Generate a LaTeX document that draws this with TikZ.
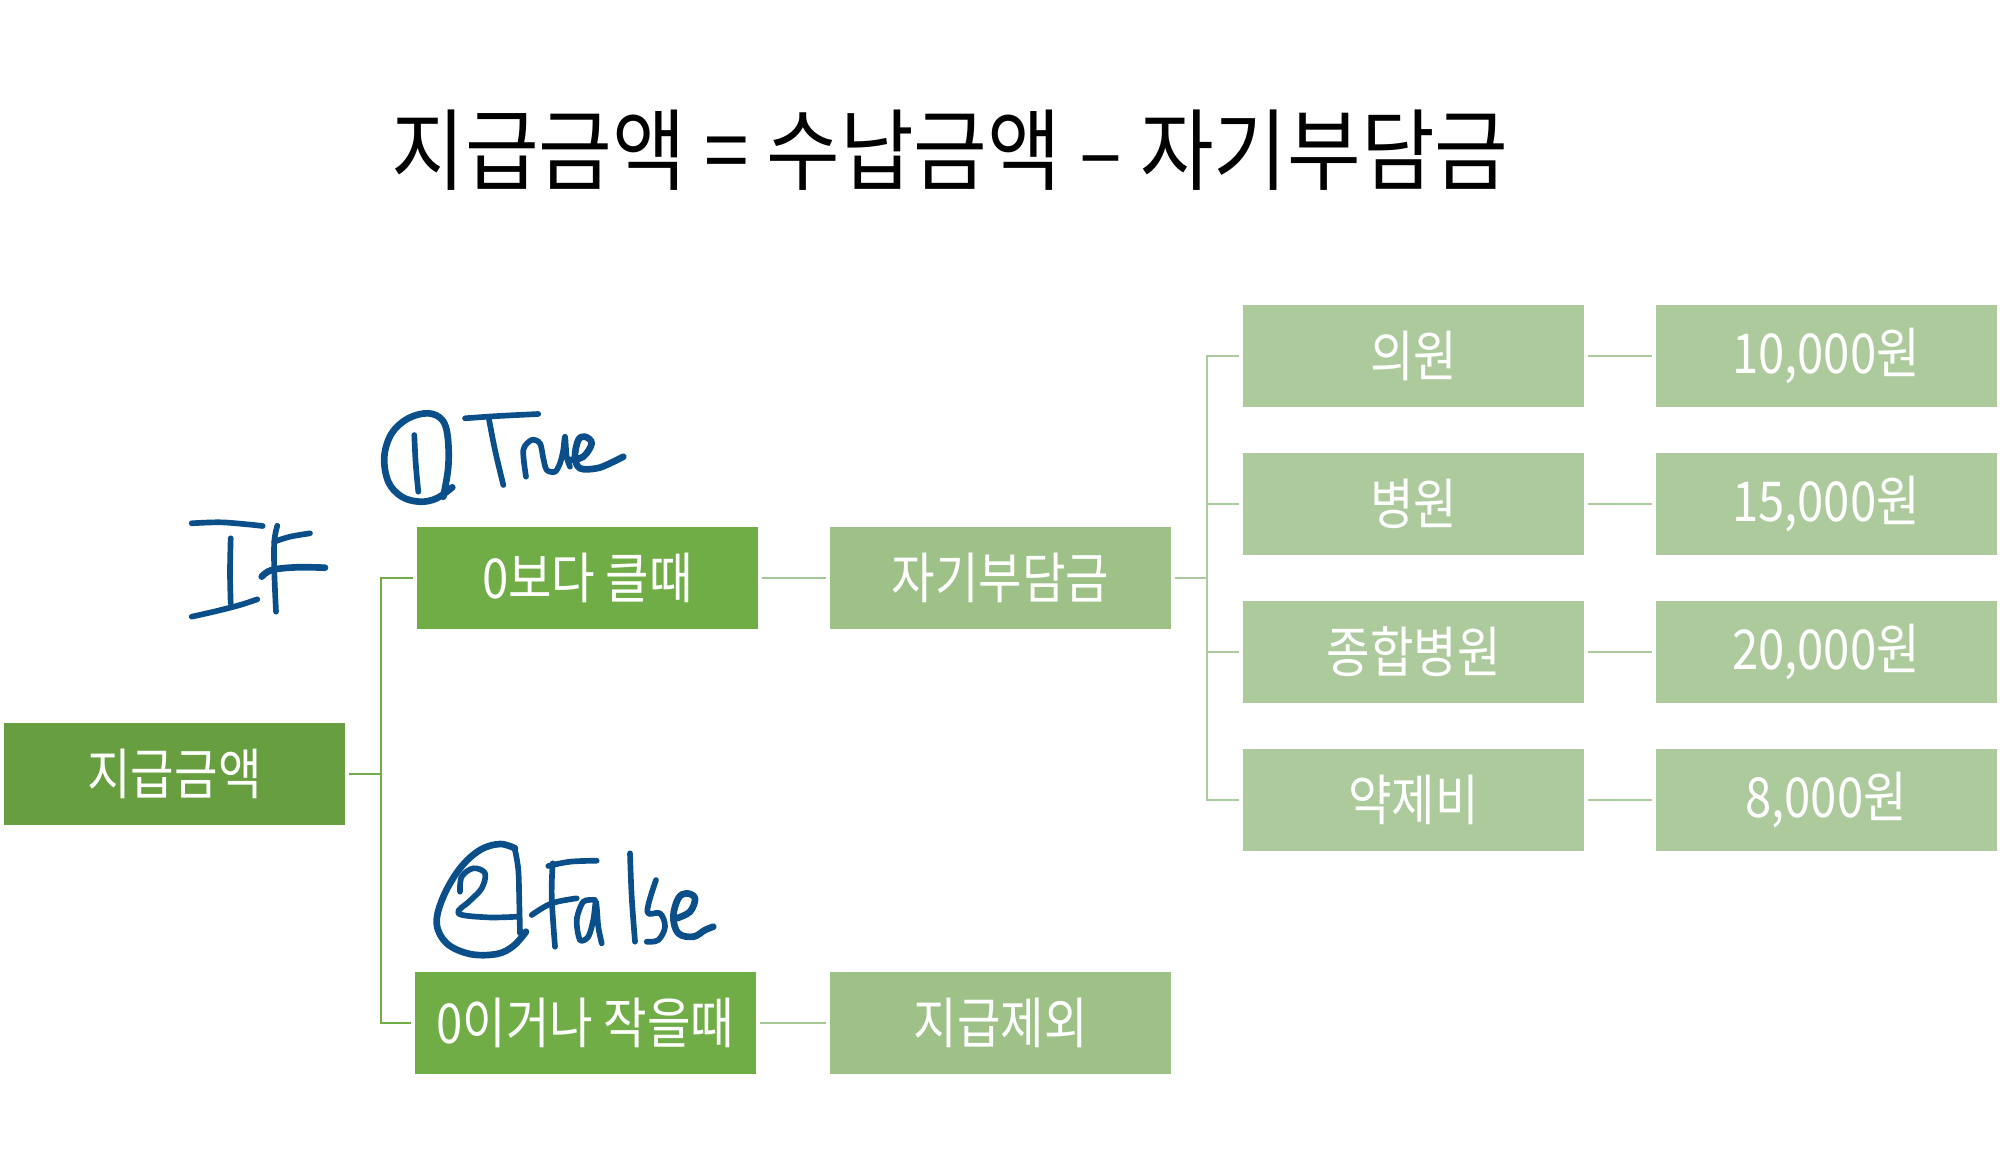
\documentclass[tikz,border=0pt]{standalone}
\usepackage{fontspec}
\newfontfamily\kr[FakeStretch=0.86]{Noto Sans CJK KR}
\newfontfamily\krtitle[FakeStretch=0.9]{Noto Sans CJK KR}
\definecolor{cA}{RGB}{102,158,64}
\definecolor{cB}{RGB}{112,173,71}
\definecolor{cC}{RGB}{158,193,136}
\definecolor{cD}{RGB}{172,202,156}
\definecolor{lnA}{RGB}{112,173,71}
\definecolor{lnB}{RGB}{166,200,150}
\definecolor{lnC}{RGB}{172,203,158}
\definecolor{ink}{RGB}{10,78,138}
\begin{document}
\begin{tikzpicture}[x=0.3pt,y=-0.3pt,
  gbox/.style={rectangle, minimum width=102.3pt, minimum height=30.6pt, inner sep=0pt, text=white, font=\kr\fontsize{16.5}{18}\selectfont},
  treeA/.style={draw=lnA, line width=0.55pt},
  treeB/.style={draw=lnB, line width=0.55pt},
  treeC/.style={draw=lnC, line width=0.55pt},
  pen/.style={draw=ink, line width=1.7pt, line cap=round, line join=round},
  penthick/.style={pen, line width=2pt}]
\useasboundingbox (0,0) rectangle (2000,1155);

% title
\node[font=\krtitle\fontsize{26.7}{30}\selectfont, text=black] (title) at (950,150) {지급금액 = 수납금액 – 자기부담금};

% boxes
\node[gbox, fill=cA] (amt) at (174.5,774) {지급금액};
\node[gbox, fill=cB] (gt) at (587.5,578) {0보다 클때};
\node[gbox, fill=cB] (le) at (585.5,1023) {0이거나 작을때};
\node[gbox, fill=cC] (self) at (1000.5,578) {자기부담금};
\node[gbox, fill=cC] (excl) at (1000.5,1023) {지급제외};
\node[gbox, fill=cD] (c1) at (1413.5,356) {의원};
\node[gbox, fill=cD] (c2) at (1413.5,504) {병원};
\node[gbox, fill=cD] (c3) at (1413.5,652) {종합병원};
\node[gbox, fill=cD] (c4) at (1413.5,800) {약제비};
\node[gbox, fill=cD] (v1) at (1826,356) {10,000원};
\node[gbox, fill=cD] (v2) at (1826,504) {15,000원};
\node[gbox, fill=cD] (v3) at (1826,652) {20,000원};
\node[gbox, fill=cD] (v4) at (1826,800) {8,000원};

% connectors
\draw[treeA, shorten <=0.9pt] (amt.east) -- ++(35,0) coordinate (f1);
\draw[treeA, shorten >=0.9pt] (f1) |- (gt.west);
\draw[treeA, shorten >=0.9pt] (f1) |- (le.west);
\draw[treeB, shorten <=0.9pt, shorten >=0.9pt] (gt.east) -- (self.west);
\draw[treeB, shorten <=0.9pt, shorten >=0.9pt] (le.east) -- (excl.west);
\draw[treeC, shorten <=0.9pt] (self.east) -- ++(35,0) coordinate (f2);
\foreach \i in {1,2,3,4}{
  \draw[treeC, shorten >=0.9pt] (f2) |- (c\i.west);
  \draw[treeC, shorten <=0.9pt, shorten >=0.9pt] (c\i.east) -- (v\i.west);
}

% handwriting: IF
\draw[pen] plot[smooth, tension=0.6] coordinates {(191.7,523.3) (220,522.3) (246.7,524.3) (262.7,526)};
\draw[pen] plot[smooth, tension=0.6] coordinates {(230.7,538.3) (230,571.7) (230.7,603.3)};
\draw[pen] plot[smooth, tension=0.6] coordinates {(191.7,616.7) (216.7,611) (240,605) (257.3,599.3)};
\draw[pen] plot[smooth, tension=0.6] coordinates {(277.3,525.7) (274.3,541.7) (274.3,571.7) (276,611.7)};
\draw[pen] plot[smooth, tension=0.6] coordinates {(274.3,541.7) (290,536.7) (310,533.3)};
\draw[penthick] plot[smooth, tension=0.6] coordinates {(261.7,576.7) (271.7,570) (296.7,567.3) (325,567.7)};

% handwriting: (1) True
\draw[penthick] plot[smooth, tension=0.6] coordinates {(443.3,496.7) (448.3,466.7) (447.7,436.7) (442.3,420) (428.3,413.3) (408.3,418.3) (391.7,433.3) (384.3,456.7) (388.3,481.7) (401.7,496.7) (420,501.7) (436.7,498.3) (452.3,487.3)};
\draw[pen] plot[smooth, tension=0.6] coordinates {(414.3,435) (415.7,463.3) (418.3,491.7)};
\draw[pen] plot[smooth, tension=0.6] coordinates {(465,418.3) (498.3,416) (538.3,414)};
\draw[pen] plot[smooth, tension=0.6] coordinates {(489,419.3) (495,450) (503.3,485)};
\draw[pen] plot[smooth, tension=0.5] coordinates {(526,476.7) (523.3,450) (531.7,440) (540,443.3) (543.3,458.3) (546.7,470) (555,471.7) (560,463.3) (563.3,450) (565,436.7) (566.7,456.7) (570,466.7)};
\draw[penthick] plot[smooth, tension=0.6] coordinates {(570,460) (583.3,456.7) (591.7,443.3) (585,436.7) (578.3,440) (575,456.7) (580,468.3) (596.7,468.3) (610,463.3) (623.3,456.7)};

% handwriting: (2) False
\draw[pen] plot[smooth, tension=0.6] coordinates {(515,850) (518.3,870) (519.3,903.3) (520,933.3)};
\draw[penthick] plot[smooth, tension=0.6] coordinates {(515,848.3) (500,844) (480,850) (460,868.3) (443.3,896.7) (436.7,923.3) (446.7,943.3) (470,954) (496.7,954) (513.3,946) (526,931.7)};
\draw[pen] plot[smooth, tension=0.6] coordinates {(460,891.7) (461.7,876.7) (473.3,868.3) (485,873.3) (481.7,888.3) (470,900.7) (458.3,913.3) (486.7,917.3) (516.7,916.7)};
\draw[pen] plot[smooth, tension=0.6] coordinates {(552.7,863.3) (551.7,896.7) (555,946.7)};
\draw[pen] plot[smooth, tension=0.6] coordinates {(548.3,866) (570,861.7) (596.7,860.7)};
\draw[pen] plot[smooth, tension=0.6] coordinates {(531.7,915) (551.7,903.3) (576.7,898.3)};
\draw[pen] plot[smooth, tension=0.5] coordinates {(595,900) (583.3,901.7) (576.7,920) (580,940) (588.3,936.7) (593.3,920) (596,901.7) (598.3,926.7) (601.7,943.3)};
\draw[pen] plot[smooth, tension=0.6] coordinates {(630,853.3) (631.7,896.7) (635,941.7)};
\draw[pen] plot[smooth, tension=0.6] coordinates {(656,880) (647.3,911.7) (660,913.3) (665,926.7) (658.3,940) (646.7,941.7)};
\draw[penthick] plot[smooth, tension=0.6] coordinates {(676.7,918.3) (690,911.7) (695,898.3) (686.7,893.3) (678.3,898.3) (673.3,916.7) (678.3,933.3) (693.3,936.7) (705,930) (713.3,926.7)};
\end{tikzpicture}
\end{document}
